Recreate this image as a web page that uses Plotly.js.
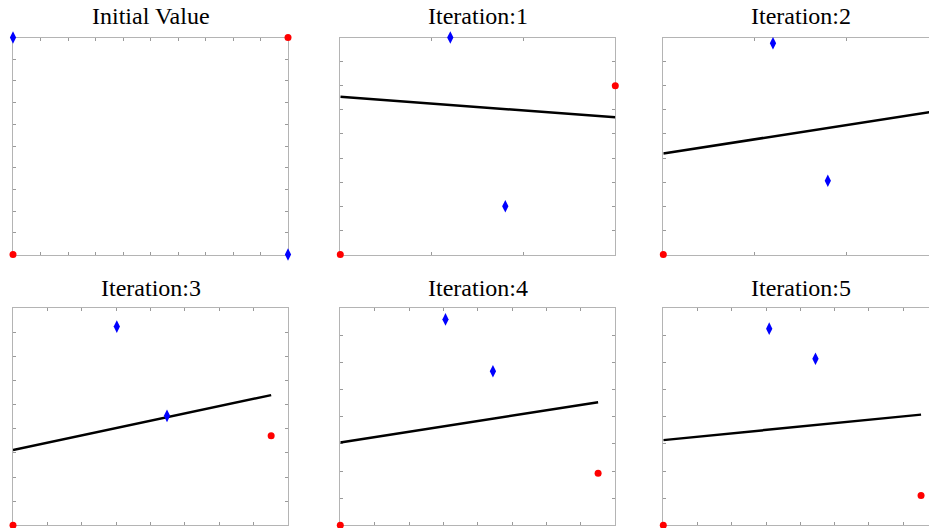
<!DOCTYPE html>
<html>
<head>
<meta charset="utf-8">
<script src="https://cdn.plot.ly/plotly-3.0.1.min.js"></script>
<style>
html,body{margin:0;padding:0;overflow:hidden;background:#fff;}
#chart{width:945px;height:528px;}
</style>
</head>
<body>
<div id="chart"></div>
<script>
// ---- data ----
const titles = ["Initial Value", "Iteration:1", "Iteration:2", "Iteration:3", "Iteration:4", "Iteration:5"];

const blueX = [[0, 1], [0.6, 0.9], [0.6, 0.9], [0.302, 0.448], [0.306, 0.444], [0.309, 0.444]];
const blueY = [[1, 0], [0.9, 0.2], [0.876, 0.306], [0.824, 0.454], [0.759, 0.568], [0.725, 0.614]];
const redX  = [[0, 1], [0, 1.5], [0, 1.5], [0, 0.751], [0, 0.750], [0, 0.752]];
const redY  = [[0, 1], [0, 0.7], [0, 0.85], [0, 0.371], [0, 0.192], [0, 0.110]];
const lineX = [null, [0, 1.5], [0, 1.5], [0, 0.751], [0, 0.750], [0, 0.752]];
const lineY = [null, [0.654, 0.569], [0.419, 0.595], [0.312, 0.540], [0.305, 0.454], [0.314, 0.408]];

const xMax = [1, 1.5, 1.5, 0.8, 0.8, 0.8];
const xStep = [0.1, 0.5, 0.5, 0.1, 0.1, 0.1];
const yMax = [1, 0.9, 0.9, 0.9, 0.8, 0.8];
const yStep = [0.1, 0.1, 0.1, 0.1, 0.1, 0.1];

// ---- layout geometry (pixels) ----
const W = 945, H = 528;
const cols = [[13, 288], [340.3, 615.3], [663.3, 937.5]];
const rows = [[37.5, 254.5], [308.3, 525.3]];
const titleY = [16, 288];

const traces = [];
const layout = {
  width: W, height: H,
  margin: {l: 0, r: 0, t: 0, b: 0},
  paper_bgcolor: '#fff', plot_bgcolor: '#fff',
  showlegend: false,
  annotations: []
};

for (let i = 0; i < 6; i++) {
  const r = Math.floor(i / 3), c = i % 3;
  const n = i + 1;
  const xa = 'x' + (n === 1 ? '' : n), ya = 'y' + (n === 1 ? '' : n);
  const axCommon = {
    showgrid: false, zeroline: false, showticklabels: false,
    showline: true, linecolor: '#b4b4b4', linewidth: 1,
    ticks: 'inside', ticklen: 3, tickcolor: '#9a9a9a', tickwidth: 1,
    mirror: 'ticks', tick0: 0, fixedrange: true, layer: 'below traces'
  };
  layout['xaxis' + (n === 1 ? '' : n)] = Object.assign({}, axCommon, {
    domain: [cols[c][0] / W, cols[c][1] / W],
    range: [0, xMax[i]], dtick: xStep[i], anchor: ya
  });
  layout['yaxis' + (n === 1 ? '' : n)] = Object.assign({}, axCommon, {
    domain: [1 - rows[r][1] / H, 1 - rows[r][0] / H],
    range: [0, yMax[i]], dtick: yStep[i], anchor: xa
  });
  layout.annotations.push({
    text: titles[i], xref: 'paper', yref: 'paper',
    x: (cols[c][0] + (c === 2 ? 275 : cols[c][1] - cols[c][0]) / 2) / W,
    y: 1 - titleY[r] / H, xanchor: 'center', yanchor: 'middle',
    showarrow: false,
    font: {family: 'Liberation Serif', size: 24, color: '#000'}
  });
  if (lineX[i]) {
    traces.push({
      x: lineX[i], y: lineY[i], xaxis: xa, yaxis: ya, type: 'scatter', mode: 'lines',
      line: {color: '#000', width: 2.5}, cliponaxis: false, hoverinfo: 'skip'
    });
  }
  traces.push({
    x: blueX[i], y: blueY[i], xaxis: xa, yaxis: ya, type: 'scatter', mode: 'markers',
    marker: {symbol: 'diamond-tall', size: 9, color: '#0000ff', line: {width: 0}},
    cliponaxis: false
  });
  traces.push({
    x: redX[i], y: redY[i], xaxis: xa, yaxis: ya, type: 'scatter', mode: 'markers',
    marker: {symbol: 'circle', size: 7, color: '#ff0000', line: {width: 0}},
    cliponaxis: false
  });
}

Plotly.newPlot('chart', traces, layout, {displayModeBar: false, staticPlot: true});
</script>
</body>
</html>
